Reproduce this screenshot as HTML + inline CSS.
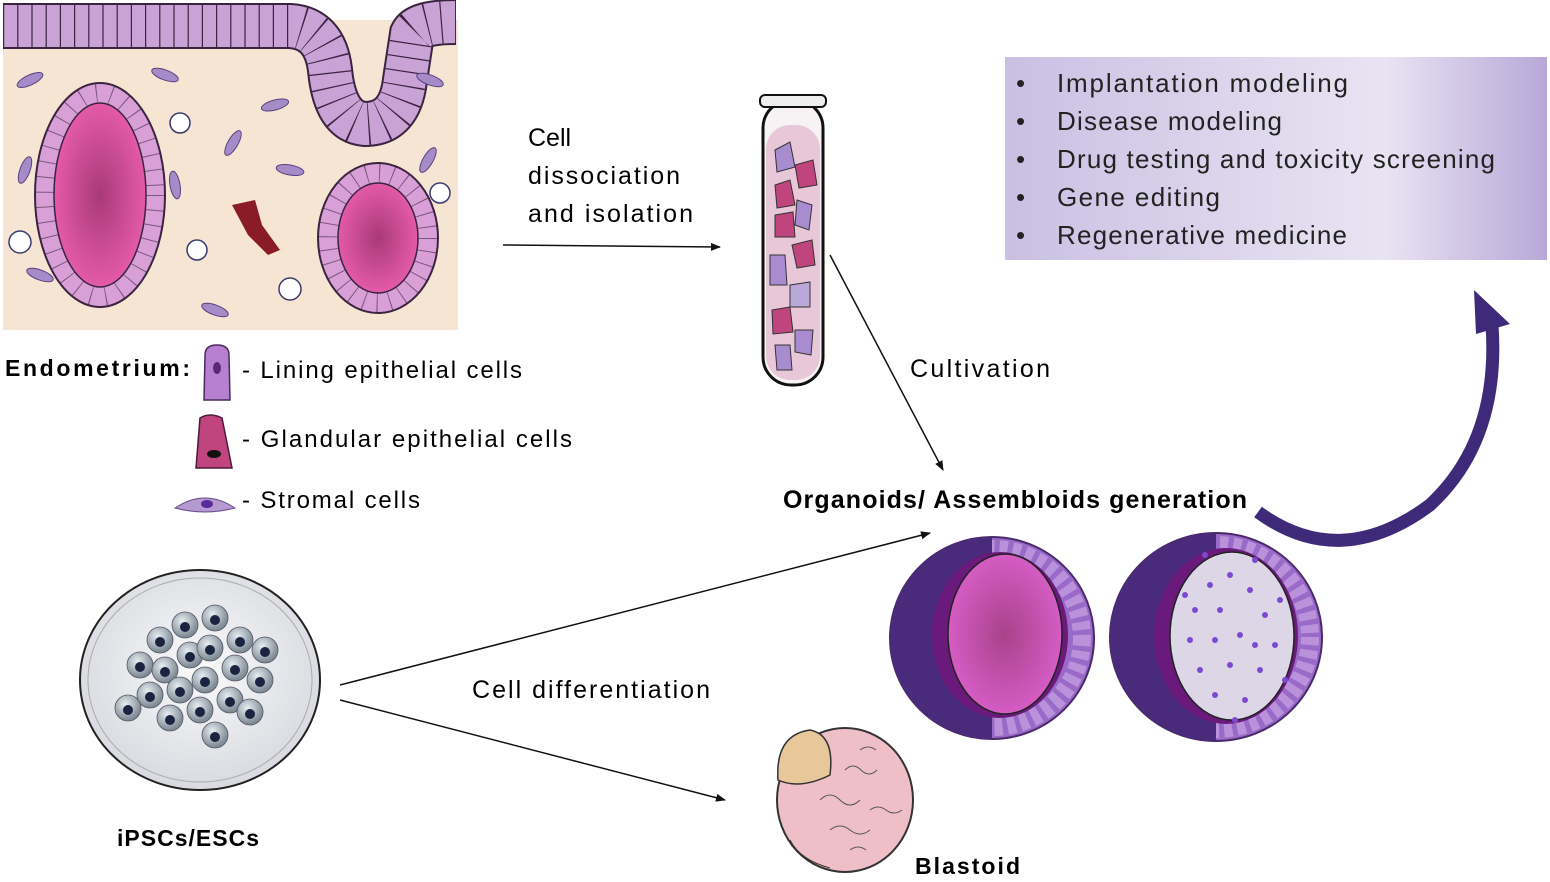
<!DOCTYPE html>
<html><head><meta charset="utf-8"><style>
html,body{margin:0;padding:0;background:#fff;}
svg{display:block;}
text{font-family:"Liberation Sans",sans-serif;}
</style></head><body>
<svg width="1550" height="882" viewBox="0 0 1550 882" xmlns="http://www.w3.org/2000/svg">
<defs>
<radialGradient id="gl" cx="50%" cy="50%" r="50%"><stop offset="0" stop-color="#a83a78"/><stop offset="1" stop-color="#e45aa8"/></radialGradient>
<radialGradient id="org1" cx="50%" cy="50%" r="50%"><stop offset="0" stop-color="#a8428a"/><stop offset="1" stop-color="#d55cc4"/></radialGradient>
<linearGradient id="box" x1="0" x2="1" y1="0" y2="0"><stop offset="0" stop-color="#c9c0e2"/><stop offset="0.7" stop-color="#e9e4f3"/><stop offset="1" stop-color="#b8a8d8"/></linearGradient>
<radialGradient id="dish" cx="50%" cy="45%" r="55%"><stop offset="0" stop-color="#fafafa"/><stop offset="1" stop-color="#d8dae0"/></radialGradient>
<radialGradient id="cell" cx="40%" cy="35%" r="60%"><stop offset="0" stop-color="#e8eef2"/><stop offset="1" stop-color="#7f8c96"/></radialGradient>
<marker id="ar" markerWidth="10" markerHeight="8" refX="9" refY="4" orient="auto" markerUnits="userSpaceOnUse"><path d="M0,0 L10,4 L0,8 z" fill="#111"/></marker>
</defs>

<!-- tissue -->
<rect x="3" y="20" width="455" height="310" fill="#f7e5d3"/>
<path d="M3,26 L290,26 Q325,28 330,70 Q335,122 365,124 Q400,124 405,80 L412,34 Q418,22 456,22" stroke="#3a2440" stroke-width="46" fill="none"/>
<path d="M3,26 L290,26 Q325,28 330,70 Q335,122 365,124 Q400,124 405,80 L412,34 Q418,22 456,22" stroke="#c9a2d6" stroke-width="42" fill="none"/>
<path d="M3,26 L290,26 Q325,28 330,70 Q335,122 365,124 Q400,124 405,80 L412,34 Q418,22 456,22" stroke="#3a2440" stroke-width="42" stroke-dasharray="1.2 13" fill="none"/>
<rect x="0" y="0" width="3" height="60" fill="#fff"/>
<ellipse cx="100" cy="195" rx="65" ry="112" fill="#d9a0d8" stroke="#3a2440" stroke-width="2"/>
<ellipse cx="100" cy="195" rx="55.5" ry="102" fill="none" stroke="#3a2440" stroke-width="18" stroke-dasharray="1 14" opacity="0.6"/>
<ellipse cx="100" cy="195" rx="46" ry="92" fill="url(#gl)" stroke="#3a2440" stroke-width="1.5"/>
<ellipse cx="378" cy="238" rx="60" ry="75" fill="#d9a0d8" stroke="#3a2440" stroke-width="2"/>
<ellipse cx="378" cy="238" rx="50" ry="65" fill="none" stroke="#3a2440" stroke-width="19" stroke-dasharray="1 12" opacity="0.6"/>
<ellipse cx="378" cy="238" rx="40" ry="55" fill="url(#gl)" stroke="#3a2440" stroke-width="1.5"/>
<path d="M232,205 L255,200 L262,225 L280,250 L268,255 L248,235 L240,220 z" fill="#8a1c28"/>
<g fill="#a58cc8" stroke="#5a4080" stroke-width="1">
<ellipse cx="30" cy="80" rx="14" ry="5" transform="rotate(-25 30 80)"/>
<ellipse cx="165" cy="75" rx="14" ry="5" transform="rotate(20 165 75)"/>
<ellipse cx="275" cy="105" rx="14" ry="5" transform="rotate(-15 275 105)"/>
<ellipse cx="233" cy="143" rx="14" ry="5" transform="rotate(-60 233 143)"/>
<ellipse cx="175" cy="185" rx="14" ry="5" transform="rotate(80 175 185)"/>
<ellipse cx="290" cy="170" rx="14" ry="5" transform="rotate(10 290 170)"/>
<ellipse cx="25" cy="170" rx="14" ry="5" transform="rotate(-70 25 170)"/>
<ellipse cx="40" cy="275" rx="14" ry="5" transform="rotate(20 40 275)"/>
<ellipse cx="215" cy="310" rx="14" ry="5" transform="rotate(20 215 310)"/>
<ellipse cx="428" cy="160" rx="14" ry="5" transform="rotate(-60 428 160)"/>
<ellipse cx="430" cy="80" rx="14" ry="5" transform="rotate(20 430 80)"/>
</g>
<g fill="#fff" stroke="#3a3a70" stroke-width="1.5">
<circle cx="180" cy="123" r="10"/><circle cx="197" cy="250" r="10"/><circle cx="290" cy="289" r="11"/><circle cx="20" cy="242" r="11"/><circle cx="440" cy="193" r="10"/>
</g>

<!-- legend -->
<text x="5" y="376" font-size="23" font-weight="bold" textLength="185">Endometrium:</text>
<path d="M205,355 Q205,345 217,345 Q229,345 229,355 L230,400 L204,400 z" fill="#b77fd0" stroke="#4a2a5a" stroke-width="1.5"/>
<ellipse cx="217" cy="368" rx="4" ry="6" fill="#5a2a7a"/>
<text x="242" y="378" font-size="24" textLength="280">- Lining epithelial cells</text>
<path d="M200,418 Q210,412 222,418 L232,468 L196,468 z" fill="#c0457f" stroke="#4a1a3a" stroke-width="1.5"/>
<ellipse cx="214" cy="454" rx="7" ry="4" fill="#111"/>
<text x="242" y="447" font-size="24" textLength="330">- Glandular epithelial cells</text>
<path d="M175,508 Q205,488 235,508 Q205,516 175,508 z" fill="#b59ad2" stroke="#6a4a8a" stroke-width="1"/>
<ellipse cx="207" cy="504" rx="6" ry="4" fill="#5a2a9a"/>
<text x="242" y="508" font-size="24" textLength="178">- Stromal cells</text>

<!-- tube -->
<rect x="763" y="100" width="60" height="285" rx="28" fill="#f7f3f5" stroke="#111" stroke-width="3"/>
<rect x="760" y="95" width="66" height="12" rx="5" fill="#eee" stroke="#111" stroke-width="2"/>
<rect x="766" y="125" width="54" height="255" rx="24" fill="#e8c8d8"/>
<g stroke="#333" stroke-width="1">
<path d="M775,150 l15,-8 l5,25 l-18,5 z" fill="#a98cd0"/><path d="M795,165 l18,-5 l4,25 l-18,3 z" fill="#c0457f"/>
<path d="M775,185 l15,-5 l5,25 l-18,3 z" fill="#c0457f"/><path d="M797,200 l15,5 l-3,25 l-14,-5 z" fill="#a98cd0"/>
<path d="M775,215 l18,-3 l2,25 l-20,0 z" fill="#c0457f"/><path d="M792,245 l20,-5 l3,25 l-18,3 z" fill="#c0457f"/>
<path d="M770,255 l15,0 l2,30 l-17,0 z" fill="#a98cd0"/><path d="M790,285 l20,-3 l0,25 l-20,0 z" fill="#b9a8d8"/>
<path d="M772,310 l18,-3 l3,25 l-20,2 z" fill="#c0457f"/><path d="M795,330 l18,0 l-2,25 l-16,-3 z" fill="#a98cd0"/>
<path d="M775,345 l15,0 l2,25 l-15,0 z" fill="#a98cd0"/>
</g>

<!-- arrows -->
<line x1="503" y1="245" x2="720" y2="247" stroke="#111" stroke-width="1.5" marker-end="url(#ar)"/>
<line x1="830" y1="255" x2="943" y2="470" stroke="#111" stroke-width="1.5" marker-end="url(#ar)"/>
<line x1="340" y1="685" x2="930" y2="533" stroke="#111" stroke-width="1.5" marker-end="url(#ar)"/>
<line x1="340" y1="700" x2="725" y2="800" stroke="#111" stroke-width="1.5" marker-end="url(#ar)"/>

<text font-size="25"><tspan x="528" y="146">Cell</tspan></text>
<text x="528" y="184" font-size="25" textLength="152">dissociation</text>
<text x="528" y="222" font-size="25" textLength="165">and isolation</text>
<text x="910" y="377" font-size="25" textLength="140">Cultivation</text>
<text x="783" y="508" font-size="25" font-weight="bold" textLength="464">Organoids/ Assembloids generation</text>
<text x="472" y="698" font-size="25" textLength="238">Cell differentiation</text>
<text x="117" y="846" font-size="23" font-weight="bold" textLength="142">iPSCs/ESCs</text>
<text x="915" y="874" font-size="23" font-weight="bold" textLength="105">Blastoid</text>

<!-- box -->
<rect x="1005" y="57" width="542" height="203" fill="url(#box)"/>
<g font-size="26" fill="#222">
<text x="1016" y="92">•</text><text x="1057" y="92" textLength="291">Implantation modeling</text>
<text x="1016" y="130">•</text><text x="1057" y="130" textLength="225">Disease modeling</text>
<text x="1016" y="168">•</text><text x="1057" y="168" textLength="438">Drug testing and toxicity screening</text>
<text x="1016" y="206">•</text><text x="1057" y="206" textLength="163">Gene editing</text>
<text x="1016" y="244">•</text><text x="1057" y="244" textLength="290">Regenerative medicine</text>
</g>

<!-- curved arrow -->
<path d="M1258,512 Q1340,572 1430,505 Q1500,440 1492,325" stroke="#3e2a78" stroke-width="13" fill="none"/>
<path d="M1474,290 L1510,324 L1476,334 z" fill="#3e2a78"/>

<!-- organoids -->
<ellipse cx="992" cy="638" rx="102" ry="101" fill="#9a6ac8" stroke="#4a2a6a" stroke-width="2"/>
<ellipse cx="992" cy="638" rx="90" ry="89" fill="none" stroke="#c7a4e4" stroke-width="18" stroke-dasharray="8 5" opacity="0.7"/>
<path d="M992,537 A102,101 0 0 0 992,739 z" fill="#4a2a7a"/>
<ellipse cx="1000" cy="635" rx="68" ry="83" fill="#6a1a7a"/>
<ellipse cx="1005" cy="634" rx="57" ry="80" fill="url(#org1)" stroke="#222" stroke-width="1.5"/>
<ellipse cx="1216" cy="637" rx="106" ry="104" fill="#9a6ac8" stroke="#4a2a6a" stroke-width="2"/>
<ellipse cx="1216" cy="637" rx="94" ry="92" fill="none" stroke="#c7a4e4" stroke-width="18" stroke-dasharray="8 5" opacity="0.7"/>
<path d="M1216,533 A106,104 0 0 0 1216,741 z" fill="#4a2a7a"/>
<ellipse cx="1226" cy="636" rx="72" ry="88" fill="#6a1a7a"/>
<ellipse cx="1232" cy="636" rx="62" ry="84" fill="#ddd6e6" stroke="#222" stroke-width="1.5"/>
<g fill="#7b4ad0">
<circle cx="1210" cy="585" r="3"/><circle cx="1230" cy="575" r="3"/><circle cx="1250" cy="590" r="3"/><circle cx="1195" cy="610" r="3"/><circle cx="1220" cy="610" r="3"/><circle cx="1265" cy="615" r="3"/><circle cx="1190" cy="640" r="3"/><circle cx="1215" cy="640" r="3"/><circle cx="1240" cy="635" r="3"/><circle cx="1275" cy="645" r="3"/><circle cx="1200" cy="670" r="3"/><circle cx="1230" cy="665" r="3"/><circle cx="1260" cy="670" r="3"/><circle cx="1215" cy="695" r="3"/><circle cx="1245" cy="700" r="3"/><circle cx="1235" cy="720" r="3"/><circle cx="1280" cy="600" r="3"/><circle cx="1185" cy="595" r="3"/><circle cx="1205" cy="555" r="3"/><circle cx="1255" cy="560" r="3"/><circle cx="1285" cy="680" r="3"/><circle cx="1255" cy="645" r="3"/>
</g>

<!-- dish -->
<ellipse cx="200" cy="680" rx="120" ry="110" fill="url(#dish)" stroke="#222" stroke-width="2"/>
<ellipse cx="200" cy="680" rx="112" ry="102" fill="none" stroke="#aaa" stroke-width="1"/>
<g fill="url(#cell)" stroke="#556" stroke-width="0.8">
<circle cx="160" cy="640" r="13"/><circle cx="185" cy="625" r="13"/><circle cx="215" cy="618" r="13"/><circle cx="240" cy="640" r="13"/><circle cx="265" cy="650" r="13"/><circle cx="140" cy="665" r="13"/><circle cx="165" cy="670" r="13"/><circle cx="190" cy="655" r="13"/><circle cx="210" cy="648" r="13"/><circle cx="235" cy="668" r="13"/><circle cx="260" cy="680" r="13"/><circle cx="150" cy="695" r="13"/><circle cx="180" cy="690" r="13"/><circle cx="205" cy="680" r="13"/><circle cx="230" cy="700" r="13"/><circle cx="128" cy="708" r="13"/><circle cx="170" cy="718" r="13"/><circle cx="200" cy="710" r="13"/><circle cx="250" cy="712" r="13"/><circle cx="215" cy="735" r="13"/>
</g>
<g fill="#1a2440">
<circle cx="160" cy="642" r="5"/><circle cx="185" cy="627" r="5"/><circle cx="215" cy="620" r="5"/><circle cx="240" cy="642" r="5"/><circle cx="265" cy="652" r="5"/><circle cx="140" cy="667" r="5"/><circle cx="165" cy="672" r="5"/><circle cx="190" cy="657" r="5"/><circle cx="210" cy="650" r="5"/><circle cx="235" cy="670" r="5"/><circle cx="260" cy="682" r="5"/><circle cx="150" cy="697" r="5"/><circle cx="180" cy="692" r="5"/><circle cx="205" cy="682" r="5"/><circle cx="230" cy="702" r="5"/><circle cx="128" cy="710" r="5"/><circle cx="170" cy="720" r="5"/><circle cx="200" cy="712" r="5"/><circle cx="250" cy="714" r="5"/><circle cx="215" cy="737" r="5"/>
</g>

<!-- blastoid -->
<ellipse cx="845" cy="800" rx="68" ry="72" fill="#efbfc8" stroke="#333" stroke-width="2"/>
<path d="M778,780 Q775,735 810,730 Q835,735 830,775 Q800,790 778,780 z" fill="#e8c89a" stroke="#333" stroke-width="1.5"/>
<path d="M790,840 Q800,860 830,868" stroke="#333" fill="none"/>
<path d="M820,800 q10,-10 20,0 t20,0 M830,830 q10,-8 20,0 t20,0 M845,770 q8,-8 16,0 t16,0 M860,750 q8,-6 16,0 M870,810 q8,-6 16,0 t16,0 M850,850 q8,-6 16,0" stroke="#555" fill="none"/>
</svg>
</body></html>
